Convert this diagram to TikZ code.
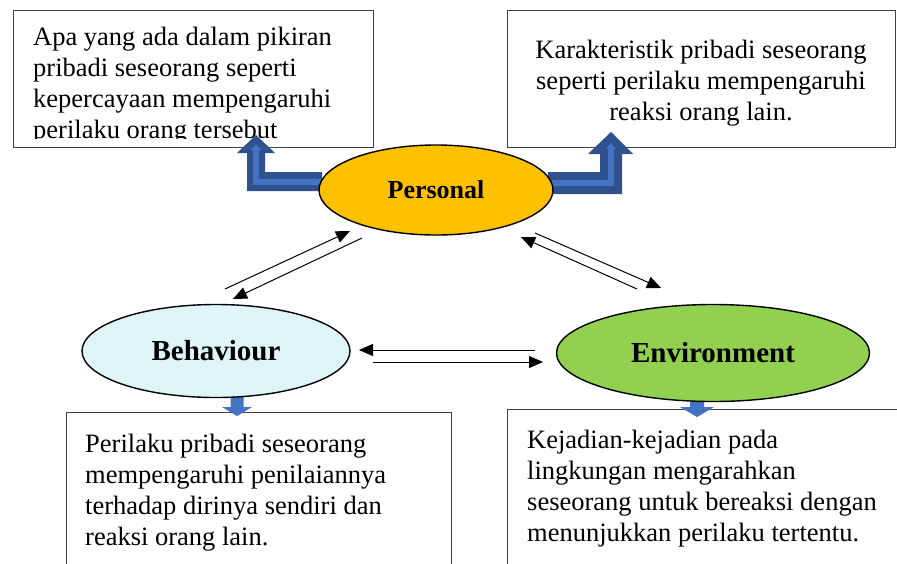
\documentclass[tikz,border=0pt]{standalone}
\usepackage{fontspec}
\setmainfont{Liberation Serif}
\usetikzlibrary{shapes.geometric,arrows.meta}
\definecolor{persfill}{HTML}{FFC000}
\definecolor{behfill}{HTML}{DEF5F8}
\definecolor{envfill}{HTML}{92D050}
\definecolor{boxgray}{HTML}{404040}
\definecolor{arrowdark}{HTML}{2F528F}
\definecolor{arrowlight}{HTML}{4472C4}
\begin{document}
\begin{tikzpicture}[x=1pt,y=-1pt,
  boxst/.style={draw=boxgray, line width=1.3pt, fill=white, inner sep=0pt, anchor=north west},
  boxtext/.style={inner sep=0pt, font=\fontsize{26.5}{31}\selectfont},
  ellst/.style={ellipse, draw=black, line width=1.4pt, inner sep=0pt},
  conn/.style={line width=1pt, -{Triangle[length=14pt,width=12pt]}},
  stripe/.style={draw=arrowlight, line width=6pt, line join=miter, -{Triangle[length=6pt,width=10pt]}}]
\useasboundingbox (0,0) rectangle (897,563);
% boxes
\node[boxst, minimum width=360pt, minimum height=137pt] (boxTL) at (13,10) {};
\node[boxst, minimum width=388pt, minimum height=137pt] (boxTR) at (507,10) {};
\node[boxst, minimum width=385pt, minimum height=170pt] (boxBL) at (66,412) {};
\node[boxst, minimum width=400pt, minimum height=170pt] (boxBR) at (507,409) {};
% box texts
\begin{scope}
\clip (13,10) rectangle (373,138);
\node[boxtext, anchor=base west] (txtTL) at (33,45) {\begin{tabular}[t]{@{}l@{}}Apa yang ada dalam pikiran\\ pribadi seseorang seperti\\ kepercayaan mempengaruhi\\ perilaku orang tersebut\end{tabular}};
\end{scope}
\node[boxtext, anchor=base] (txtTR) at (701,58) {\begin{tabular}[t]{@{}c@{}}Karakteristik pribadi seseorang\\ seperti perilaku mempengaruhi\\ reaksi orang lain.\end{tabular}};
\node[boxtext, anchor=base west] (txtBL) at (85,452) {\begin{tabular}[t]{@{}l@{}}Perilaku pribadi seseorang\\ mempengaruhi penilaiannya\\ terhadap dirinya sendiri dan\\ reaksi orang lain.\end{tabular}};
\node[boxtext, anchor=base west] (txtBR) at (527,448) {\begin{tabular}[t]{@{}l@{}}Kejadian-kejadian pada\\ lingkungan mengarahkan\\ seseorang untuk bereaksi dengan\\ menunjukkan perilaku tertentu.\end{tabular}};
% bent blue arrows
\fill[arrowdark] (322,172) -- (265,172) -- (265,153) -- (275,153) -- (256,135) -- (237,153) -- (247,153) -- (247,191) -- (322,191) -- cycle;
\draw[stripe] (322,181.5) -- (256,181.5) -- (256,144);
\fill[arrowdark] (548,172) -- (600,172) -- (600,154) -- (588,154) -- (611,132) -- (633,154) -- (622,154) -- (622,194) -- (548,194) -- cycle;
\draw[stripe] (548,183) -- (611,183) -- (611,143);
% small down arrows
\fill[arrowlight] (230.5,394) -- (243.5,394) -- (243.5,407) -- (252,407) -- (237,416) -- (222,407) -- (230.5,407) -- cycle;
\fill[arrowlight] (690,396) -- (704,396) -- (704,407) -- (714,407) -- (697,417) -- (680,407) -- (690,407) -- cycle;
% ellipses
\node[ellst, fill=persfill, minimum width=234pt, minimum height=90pt, font=\bfseries\fontsize{26}{31}\selectfont] (personal) at (436,190) {Personal};
\node[ellst, fill=behfill, minimum width=268pt, minimum height=93pt, font=\bfseries\fontsize{29}{34}\selectfont] (behaviour) at (216,351) {Behaviour};
\node[ellst, fill=envfill, minimum width=313pt, minimum height=97pt, font=\bfseries\fontsize{29}{34}\selectfont] (environment) at (713,353) {Environment};
% connector end points
\coordinate (bA1) at (225,289); \coordinate (bA2) at (350,231);
\coordinate (bB1) at (362,238); \coordinate (bB2) at (233,299);
\coordinate (eA1) at (535,233); \coordinate (eA2) at (661,288);
\coordinate (eB1) at (637,289); \coordinate (eB2) at (521,237);
\coordinate (hA1) at (535,350); \coordinate (hA2) at (359,350);
\coordinate (hB1) at (373,362); \coordinate (hB2) at (543,362);
\draw[conn] (bA1) -- (bA2);
\draw[conn] (bB1) -- (bB2);
\draw[conn] (eA1) -- (eA2);
\draw[conn] (eB1) -- (eB2);
\draw[conn] (hA1) -- (hA2);
\draw[conn] (hB1) -- (hB2);
\end{tikzpicture}
\end{document}
